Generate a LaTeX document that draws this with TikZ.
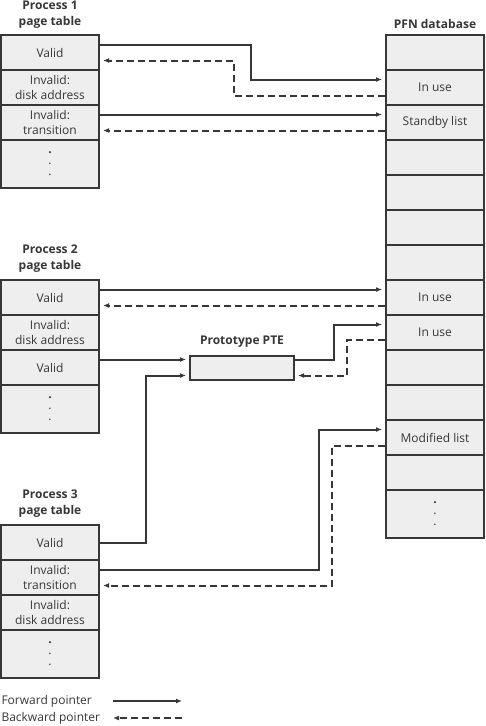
\documentclass[tikz,border=0pt]{standalone}
\usepackage{fontspec}
\setmainfont{Open Sans}
\usetikzlibrary{arrows.meta}
\definecolor{cellgray}{RGB}{238,238,238}
\definecolor{inkgray}{RGB}{55,55,55}
\newcommand{\dotrows}{\bfseries .\\[-4pt].\\[-4pt].}

\begin{document}
\begin{tikzpicture}[x=1pt,y=1pt,font=\fontsize{12}{15}\selectfont,>={Latex[length=6pt,width=5pt]},color=inkgray]
    \tikzset{
      cell/.style={draw=inkgray,line width=2pt,fill=cellgray,align=center,inner sep=0pt,
                   minimum width=98pt,minimum height=35pt},
      tall/.style={cell,minimum height=48pt},
      ttl/.style={font=\fontsize{12}{16}\selectfont\bfseries,align=center},
      fw/.style={->,line width=2pt,shorten >=3pt},
      bw/.style={fw,dash pattern=on 7pt off 4pt}}
    \useasboundingbox (0,0) rectangle (485,-726);
    % process 1
    \node[ttl] (pat) at (50,-14.5) {Process 1\\page table};
    \node[cell] (pa1) at (50,-52.5)  {Valid};
    \node[cell] (pa2) at (50,-87.5)  {Invalid:\\disk address};
    \node[cell] (pa3) at (50,-122.5) {Invalid:\\transition};
    \node[tall] (pa4) at (50,-164)   {\dotrows};
    % process 2
    \node[ttl] (pbt) at (50,-258.5) {Process 2\\page table};
    \node[cell] (pb1) at (50,-297.5) {Valid};
    \node[cell] (pb2) at (50,-332.5) {Invalid:\\disk address};
    \node[cell] (pb3) at (50,-367.5) {Valid};
    \node[tall] (pb4) at (50,-409)   {\dotrows};
    % process 3
    \node[ttl] (pct) at (50,-503.5) {Process 3\\page table};
    \node[cell] (pc1) at (50,-542.5) {Valid};
    \node[cell] (pc2) at (50,-577.5) {Invalid:\\transition};
    \node[cell] (pc3) at (50,-612.5) {Invalid:\\disk address};
    \node[tall] (pc4) at (50,-654)   {\dotrows};
    % prototype PTE
    \node[ttl] (protot) at (242,-342) {Prototype PTE};
    \node[cell,minimum width=104pt,minimum height=24pt] (proto) at (242,-367.5) {};
    % PFN database
    \node[ttl] (pfnt) at (435,-24) {PFN database};
    \foreach \i/\t in {1/{},2/In use,3/Standby list,4/{},5/{},6/{},7/{},8/In use,9/In use,10/{},11/{},12/Modified list,13/{}}
      \node[cell] (pfn\i) at (435,-17.5-35*\i) {\t};
    \node[tall] (pfn14) at (435,-514) {\dotrows};
    % pointers
    \draw[fw] ([yshift=8pt]pa1.east) -- ++(151,0) |- ([yshift=8pt]pfn2.west);
    \draw[bw] ([yshift=-8pt]pfn2.west) -- ++(-151,0) |- ([yshift=-8pt]pa1.east);
    \foreach \a/\b in {pa3/pfn3,pb1/pfn8} {
      \draw[fw] ([yshift=8pt]\a.east) -- ([yshift=8pt]\b.west);
      \draw[bw] ([yshift=-8pt]\b.west) -- ([yshift=-8pt]\a.east);}
    \draw[fw] ([yshift=8pt]pb3.east) -- ([yshift=8pt]proto.west);
    \draw[fw] ([yshift=8pt]proto.east) -- ++(39,0) |- ([yshift=8pt]pfn9.west);
    \draw[bw] ([yshift=-7pt]pfn9.west) -- ++(-38,0) |- ([yshift=-8pt]proto.east);
    \draw[fw] (pc1.east) -- ++(46,0) |- ([yshift=-8pt]proto.west);
    \draw[fw] ([yshift=8pt]pc2.east) -- ++(219,0) |- ([yshift=8pt]pfn12.west);
    \draw[bw] ([yshift=-8pt]pfn12.west) -- ++(-53,0) |- ([yshift=-8pt]pc2.east);
    % legend
    \node[anchor=west] (lgf) at (-2,-701) {Forward pointer};
    \node[anchor=west] (lgb) at (-2,-718) {Backward pointer};
    \coordinate (lf1) at (113,-701); \coordinate (lf2) at (182,-701);
    \coordinate (lb1) at (113,-718); \coordinate (lb2) at (182,-718);
    \draw[fw,shorten >=0pt] (lf1) -- (lf2);
    \draw[bw,shorten >=0pt] (lb2) -- (lb1);
\end{tikzpicture}
\end{document}
